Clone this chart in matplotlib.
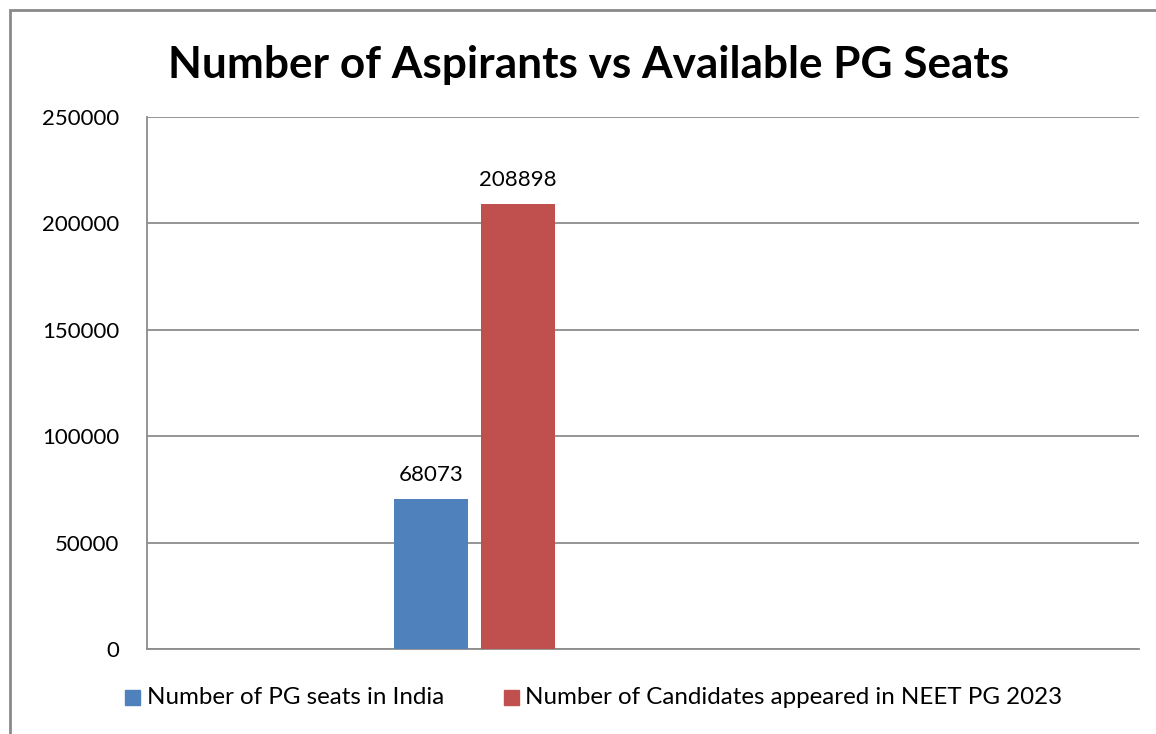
import numpy as np
import matplotlib
matplotlib.use("Agg")
import matplotlib.pyplot as plt
from matplotlib.patches import Rectangle

# ── Data ──────────────────────────────────────────────────────────────────────
series_names = ["Number of PG seats in India",
                "Number of Candidates appeared in NEET PG 2023"]
bar_values = [70400, 208898]          # bar heights as drawn
label_texts = ["68073", "208898"]     # data labels as printed
colors = ["#4F81BD", "#C0504D"]
y_ticks = [0, 50000, 100000, 150000, 200000, 250000]

plt.rcParams["font.family"] = ["Lato", "DejaVu Sans"]

W, H = 1156, 734
fig = plt.figure(figsize=(W / 100, H / 100), dpi=100)

# plot area in pixel coordinates
left, right, top, bottom = 147, 1139, 116.7, 649
ax = fig.add_axes([left / W, 1 - bottom / H, (right - left) / W, (bottom - top) / H])

# single category group, placed at about a third of the plot width
bar_w = 74 / (right - left)
offset = 87 / 2 / (right - left)
x = np.array([-offset, offset])
bars = ax.bar(x, bar_values, width=bar_w, color=colors, zorder=3)
ax.set_xlim(-0.330, 0.670)
ax.set_ylim(0, 250000)

for bar, txt in zip(bars, label_texts):
    ax.annotate(txt, (bar.get_x() + bar.get_width() / 2, bar.get_height()),
                xytext=(0, 13), textcoords="offset points",
                ha="center", va="baseline", fontsize=16)

ax.set_yticks(y_ticks)
ax.set_yticklabels([str(v) for v in y_ticks], fontsize=16)
ax.tick_params(axis="y", length=0, pad=20)
ax.set_xticks([])
ax.grid(axis="y", color="#8c8c8c", linewidth=1.3, zorder=0)
for s in ["top", "right"]:
    ax.spines[s].set_visible(False)
for s in ["left", "bottom"]:
    ax.spines[s].set_color("#8c8c8c")
    ax.spines[s].set_linewidth(1.3)

fig.text(589 / W, 1 - 78 / H, "Number of Aspirants vs Available PG Seats",
         ha="center", va="baseline", fontsize=31.8, fontweight="bold")

# legend drawn by hand: squares and labels
leg_y = 1 - 697 / H
sq = 15
for xs, xt, c, name in [(125, 147, colors[0], series_names[0]),
                        (504, 525, colors[1], series_names[1])]:
    fig.patches.append(Rectangle((xs / W, leg_y - sq / 2 / H), sq / W, sq / H,
                                 transform=fig.transFigure, color=c))
    fig.text(xt / W, leg_y, name, ha="left", va="center", fontsize=17.4)

# chart border (runs off right and bottom)
fig.patches.append(Rectangle((10 / W, -0.05), 1.2, 1.05 - 10 / H,
                             transform=fig.transFigure, fill=False,
                             edgecolor="#8a8a8a", linewidth=2))

fig.savefig("out.png", dpi=100)
